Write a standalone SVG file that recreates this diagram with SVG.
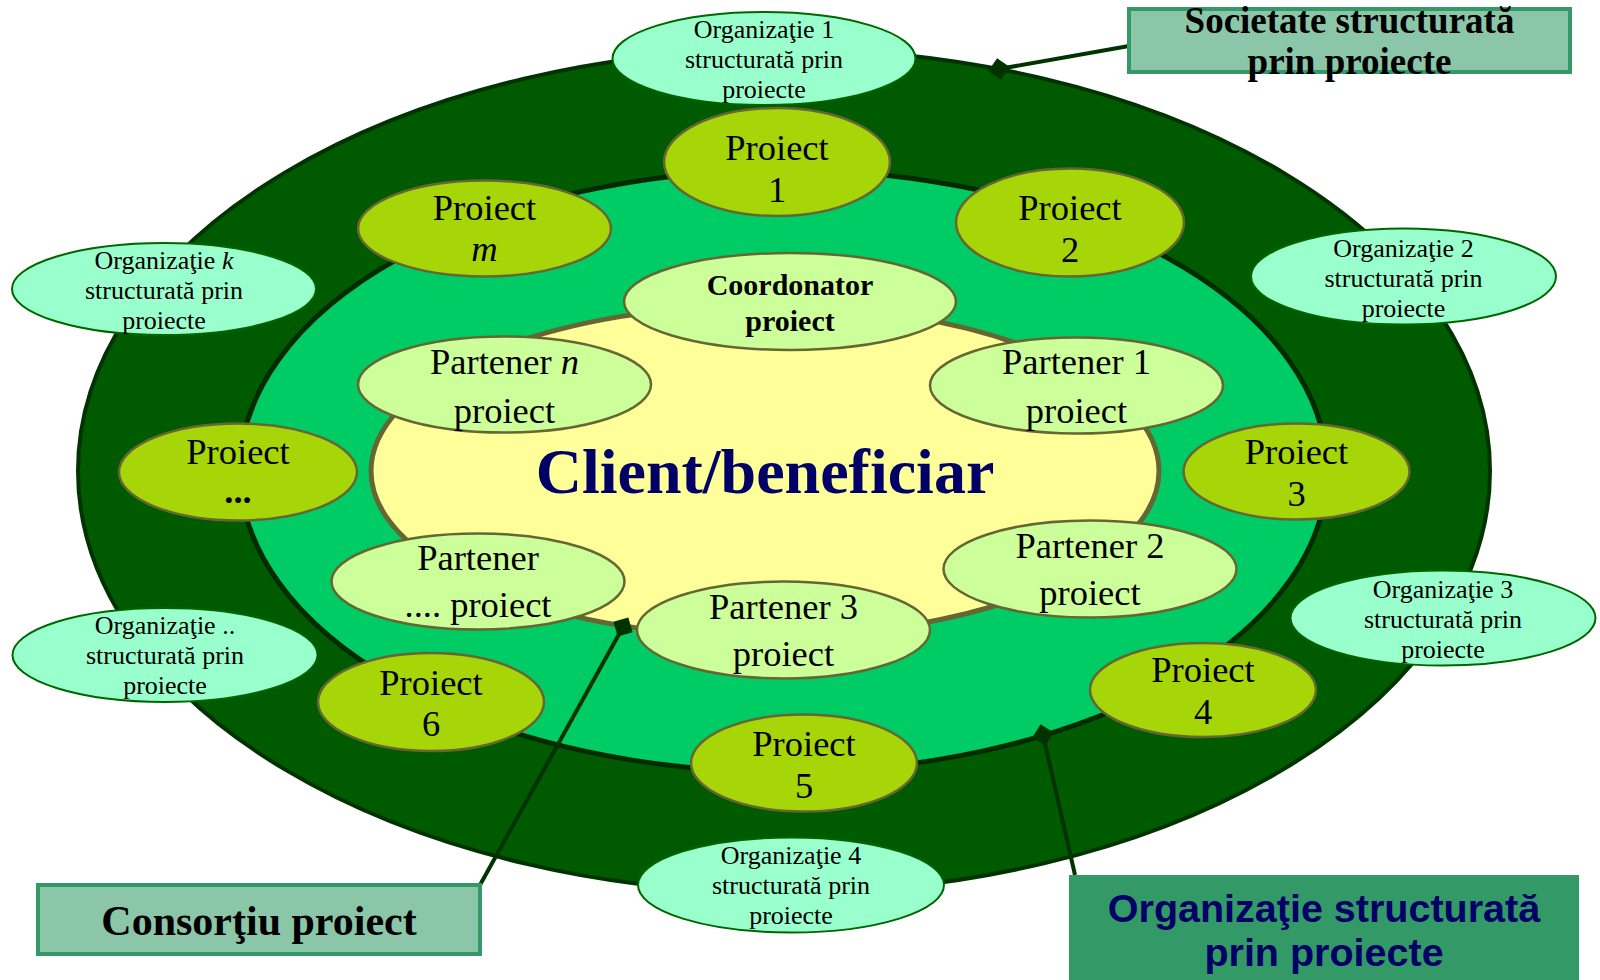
<svg xmlns="http://www.w3.org/2000/svg" width="1600" height="980" viewBox="0 0 1600 980">
<defs>
<style>
.serif{font-family:"Liberation Serif","Times New Roman",serif;fill:#000;text-anchor:middle}
.org{fill:#99ffcc;stroke:#006600;stroke-width:2}
.org-t{font-size:26px}
.prj{fill:#a6d608;stroke:#666633;stroke-width:2.5}
.par{fill:#ccff99;stroke:#666633;stroke-width:2.5}
.big{font-size:36.5px}
.conn{stroke:#003300;stroke-width:4;fill:none;marker-end:url(#dia)}
.box{fill:#8cc6a8;stroke:#339966;stroke-width:4}
</style>
<marker id="dia" viewBox="-5 -5 10 10" markerWidth="5.5" markerHeight="5.5" refX="0" refY="0" orient="auto" markerUnits="strokeWidth">
<path d="M-5 0L0-5L5 0L0 5Z" fill="#003300"/>
</marker>
</defs>

<g id="rings">
<ellipse id="outer" cx="784" cy="471" rx="706" ry="422" fill="#005a00" stroke="#003300" stroke-width="4"/>
<ellipse id="middle" cx="783.5" cy="471" rx="543.5" ry="301" fill="#00cc66" stroke="#002a00" stroke-width="5"/>
<ellipse id="inner" cx="765" cy="471" rx="394" ry="166" fill="#ffff99" stroke="#666633" stroke-width="5"/>
<text x="765" y="493" font-family="'Liberation Serif','Times New Roman',serif" font-weight="bold" font-size="64" fill="#000066" text-anchor="middle">Client/beneficiar</text>
</g>

<g id="org1"><ellipse class="org" cx="764" cy="58.5" rx="151.5" ry="46.5"/>
<text class="serif org-t" x="764"><tspan x="764" y="38">Organizaţie 1</tspan><tspan x="764" y="68">structurată prin</tspan><tspan x="764" y="98">proiecte</tspan></text></g>
<g id="orgk"><ellipse class="org" cx="164" cy="289" rx="152" ry="46"/>
<text class="serif org-t" x="164"><tspan x="164" y="269">Organizaţie <tspan font-style="italic">k</tspan></tspan><tspan x="164" y="299">structurată prin</tspan><tspan x="164" y="329">proiecte</tspan></text></g>
<g id="org2"><ellipse class="org" cx="1403.5" cy="276.5" rx="152.5" ry="48"/>
<text class="serif org-t" x="1403.5"><tspan x="1403.5" y="257">Organizaţie 2</tspan><tspan x="1403.5" y="287">structurată prin</tspan><tspan x="1403.5" y="317">proiecte</tspan></text></g>
<g id="org3"><ellipse class="org" cx="1443" cy="618" rx="152.5" ry="47.5"/>
<text class="serif org-t" x="1443"><tspan x="1443" y="598">Organizaţie 3</tspan><tspan x="1443" y="628">structurată prin</tspan><tspan x="1443" y="658">proiecte</tspan></text></g>
<g id="orgdots"><ellipse class="org" cx="165" cy="655" rx="152.5" ry="47"/>
<text class="serif org-t" x="165"><tspan x="165" y="634">Organizaţie ..</tspan><tspan x="165" y="664">structurată prin</tspan><tspan x="165" y="694">proiecte</tspan></text></g>
<g id="org4"><ellipse class="org" cx="791" cy="885" rx="153" ry="47.5"/>
<text class="serif org-t" x="791"><tspan x="791" y="864">Organizaţie 4</tspan><tspan x="791" y="894">structurată prin</tspan><tspan x="791" y="924">proiecte</tspan></text></g>

<g id="p1"><ellipse class="prj" cx="777" cy="162" rx="113" ry="54"/>
<text class="serif big"><tspan x="777" y="160">Proiect</tspan><tspan x="777" y="202">1</tspan></text></g>
<g id="p2"><ellipse class="prj" cx="1070" cy="222.5" rx="114" ry="54"/>
<text class="serif big"><tspan x="1070" y="220">Proiect</tspan><tspan x="1070" y="262">2</tspan></text></g>
<g id="p3"><ellipse class="prj" cx="1296.5" cy="471.5" rx="113" ry="48"/>
<text class="serif big"><tspan x="1296.5" y="464">Proiect</tspan><tspan x="1296.5" y="506">3</tspan></text></g>
<g id="p4"><ellipse class="prj" cx="1203" cy="690" rx="113" ry="47"/>
<text class="serif big"><tspan x="1203" y="682">Proiect</tspan><tspan x="1203" y="724">4</tspan></text></g>
<g id="p5"><ellipse class="prj" cx="804" cy="763" rx="113" ry="48.5"/>
<text class="serif big"><tspan x="804" y="756">Proiect</tspan><tspan x="804" y="798">5</tspan></text></g>
<g id="p6"><ellipse class="prj" cx="431" cy="702" rx="113" ry="49"/>
<text class="serif big"><tspan x="431" y="695">Proiect</tspan><tspan x="431" y="736">6</tspan></text></g>
<g id="pdots"><ellipse class="prj" cx="238" cy="472" rx="119" ry="48.5"/>
<text class="serif big"><tspan x="238" y="464">Proiect</tspan><tspan x="238" y="503" font-weight="bold">...</tspan></text></g>
<g id="pm"><ellipse class="prj" cx="484.5" cy="228.5" rx="126.5" ry="48"/>
<text class="serif big"><tspan x="484.5" y="220">Proiect</tspan><tspan x="484.5" y="261" font-style="italic">m</tspan></text></g>

<g id="coord"><ellipse class="par" cx="790" cy="301.5" rx="166" ry="48.5"/>
<text class="serif" font-size="30" font-weight="bold"><tspan x="790" y="295">Coordonator</tspan><tspan x="790" y="331">proiect</tspan></text></g>
<g id="partn"><ellipse class="par" cx="504.5" cy="384.5" rx="146.5" ry="48"/>
<text class="serif big"><tspan x="504.5" y="374">Partener <tspan font-style="italic">n</tspan></tspan><tspan x="504.5" y="423">proiect</tspan></text></g>
<g id="part1"><ellipse class="par" cx="1076.5" cy="385.5" rx="146.5" ry="48"/>
<text class="serif big"><tspan x="1076.5" y="374">Partener 1</tspan><tspan x="1076.5" y="423">proiect</tspan></text></g>
<g id="partdots"><ellipse class="par" cx="478" cy="581.5" rx="146.5" ry="48"/>
<text class="serif big"><tspan x="478" y="570">Partener</tspan><tspan x="478" y="617">.... proiect</tspan></text></g>
<g id="part3"><ellipse class="par" cx="783.5" cy="630" rx="146.5" ry="48.5"/>
<text class="serif big"><tspan x="783.5" y="619">Partener 3</tspan><tspan x="783.5" y="666">proiect</tspan></text></g>
<g id="part2"><ellipse class="par" cx="1090" cy="569" rx="146.5" ry="48.5"/>
<text class="serif big"><tspan x="1090" y="558">Partener 2</tspan><tspan x="1090" y="605">proiect</tspan></text></g>

<g id="connectors">
<line class="conn" x1="1129" y1="46" x2="999" y2="69"/>
<line class="conn" x1="480" y1="885" x2="623" y2="627"/>
<line class="conn" x1="1075" y1="875" x2="1043" y2="735"/>
</g>

<g id="label-societate"><rect class="box" x="1129" y="9" width="441" height="63"/>
<text class="serif" font-size="37" font-weight="bold"><tspan x="1349.5" y="33">Societate structurată</tspan><tspan x="1349.5" y="74">prin proiecte</tspan></text></g>
<g id="label-consortiu"><rect class="box" x="38" y="885" width="442" height="69"/>
<text class="serif" font-size="42" font-weight="bold" x="259" y="935">Consorţiu proiect</text></g>
<g id="label-organizatie"><rect x="1069" y="875" width="510" height="105" fill="#339966"/>
<text font-family="'Liberation Sans',Arial,sans-serif" font-size="39.5" font-weight="bold" fill="#000066" text-anchor="middle"><tspan x="1324" y="922">Organizaţie structurată</tspan><tspan x="1324" y="966">prin proiecte</tspan></text></g>
</svg>
